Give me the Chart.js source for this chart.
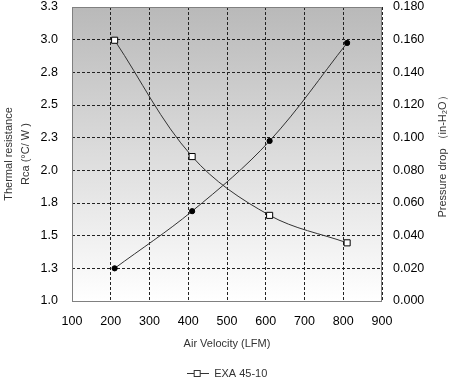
<!DOCTYPE html>
<html>
<head>
<meta charset="utf-8">
<script src="https://cdn.jsdelivr.net/npm/chart.js"></script>
<style>
  html, body { margin: 0; padding: 0; background: #fff; }
  #wrap { width: 454px; height: 379px; }
</style>
</head>
<body>
<div id="wrap"><canvas id="c" width="454" height="379"></canvas></div>
<script>
// Air velocity (LFM) for both series
const velocity = [210, 410, 610, 810];
// Thermal resistance Rca (°C/W), left axis
const resistance = [3.04, 2.13, 1.67, 1.455];
// Pressure drop (in-H2O), right axis
const pressure = [0.020, 0.055, 0.098, 0.158];

const xTicks = [100, 200, 300, 400, 500, 600, 700, 800, 900];
const leftTickLabels = ['1.0', '1.3', '1.5', '1.8', '2.0', '2.3', '2.5', '2.8', '3.0', '3.3'];
const rightTickLabels = ['0.000', '0.020', '0.040', '0.060', '0.080', '0.100', '0.120', '0.140', '0.160', '0.180'];

const seriesName = 'EXA 45-10';
const LEFT_MIN = 1.0, LEFT_MAX = 3.3;
const RIGHT_MIN = 0, RIGHT_MAX = 0.18;

const FONT = "'Liberation Sans', Arial, sans-serif";

// legend sample: line with hollow square
const legendIcon = document.createElement('canvas');
legendIcon.width = 22; legendIcon.height = 9;
(() => {
    const g = legendIcon.getContext('2d');
    g.strokeStyle = '#333'; g.lineWidth = 1;
    g.beginPath(); g.moveTo(0, 4.5); g.lineTo(22, 4.5); g.stroke();
    g.fillStyle = '#fff'; g.fillRect(7.5, 1.5, 6, 6);
    g.strokeRect(7.5, 1.5, 6, 6);
})();

const plotBackground = {
    id: 'plotBackground',
    beforeDraw(chart) {
        const { ctx, chartArea: a } = chart;
        const grad = ctx.createLinearGradient(0, a.top, 0, a.bottom);
        grad.addColorStop(0, '#b9b9b9');
        grad.addColorStop(1, '#ffffff');
        ctx.save();
        ctx.fillStyle = grad;
        ctx.fillRect(a.left, a.top, a.right - a.left, a.bottom - a.top);
        ctx.restore();
    },
    beforeDatasetsDraw(chart) {
        const { ctx, chartArea: a } = chart;
        ctx.save();
        ctx.strokeStyle = '#808080';
        ctx.lineWidth = 1;
        ctx.strokeRect(a.left + 0.5, a.top + 0.5, a.right - a.left - 1, a.bottom - a.top);
        ctx.restore();
    },
    afterDraw(chart) {
        // right axis title reads bottom-to-top like the left one
        const { ctx, chartArea: a } = chart;
        ctx.save();
        ctx.translate(443, (a.top + a.bottom) / 2);
        ctx.rotate(-Math.PI / 2);
        ctx.fillStyle = '#333';
        ctx.font = '11px ' + FONT;
        ctx.textAlign = 'center';
        ctx.textBaseline = 'middle';
        ctx.fillText('Pressure drop （in-H₂O）', 0, 0);
        ctx.restore();
    }
};

const lineStyle = {
    borderColor: '#333',
    borderWidth: 1,
    tension: 0.35,
    pointBorderColor: '#000',
    pointBorderWidth: 1
};

const gridDash = [3, 2];

// fixed side widths; keep the top edge close to the canvas like the original
const fitSide = (s) => { s.width = 72; s.paddingTop = 7; s.paddingBottom = 0; };

new Chart(document.getElementById('c'), {
    type: 'line',
    data: {
        datasets: [{
            ...lineStyle,
            label: seriesName,
            data: velocity.map((v, i) => ({ x: v, y: resistance[i] })),
            yAxisID: 'y',
            pointStyle: 'rect',
            pointRadius: 4.3,
            pointBackgroundColor: '#fff'
        }, {
            ...lineStyle,
            label: 'Pressure drop',
            data: velocity.map((v, i) => ({ x: v, y: pressure[i] })),
            yAxisID: 'y1',
            pointStyle: 'circle',
            pointRadius: 2.6,
            pointBackgroundColor: '#000'
        }]
    },
    options: {
        responsive: false,
        animation: false,
        layout: { padding: { top: 0, left: 0, right: 0, bottom: -10 } },
        plugins: {
            tooltip: { enabled: false },
            legend: {
                position: 'bottom',
                labels: {
                    usePointStyle: true,
                    pointStyleWidth: 22,
                    color: '#333',
                    font: { family: FONT, size: 11 },
                    padding: 2,
                    generateLabels: () => [{
                        text: seriesName,
                        pointStyle: legendIcon,
                        datasetIndex: 0,
                        fontColor: '#333',
                        lineWidth: 0
                    }]
                }
            }
        },
        scales: {
            x: {
                type: 'linear',
                min: xTicks[0],
                max: xTicks[xTicks.length - 1],
                afterBuildTicks: (s) => { s.ticks = xTicks.map(v => ({ value: v })); },
                afterFit: (s) => { s.height = 65; },
                border: { display: false, dash: gridDash },
                grid: { color: '#222', lineWidth: 1, drawTicks: false },
                ticks: { color: '#000', font: { family: FONT, size: 12.5 }, padding: 13, maxRotation: 0 },
                title: {
                    display: true,
                    text: 'Air Velocity (LFM)',
                    color: '#333',
                    font: { family: FONT, size: 11 },
                    padding: { top: 0, bottom: 15 }
                }
            },
            y: {
                position: 'left',
                min: LEFT_MIN,
                max: LEFT_MAX,
                afterBuildTicks: (s) => {
                    s.ticks = leftTickLabels.map((_, i) => ({
                        value: LEFT_MIN + i * (LEFT_MAX - LEFT_MIN) / (leftTickLabels.length - 1)
                    }));
                },
                afterFit: fitSide,
                border: { display: false, dash: gridDash },
                grid: { color: '#222', lineWidth: 1, drawTicks: false },
                ticks: {
                    color: '#000',
                    font: { family: FONT, size: 12.5 },
                    padding: 14,
                    callback: (v, i) => leftTickLabels[i]
                },
                title: {
                    display: true,
                    text: ['Thermal resistance', 'Rca (°C/ W )'],
                    color: '#333',
                    font: { family: FONT, size: 11, lineHeight: 1.55 },
                    padding: { top: 0, bottom: 0 }
                }
            },
            y1: {
                position: 'right',
                min: RIGHT_MIN,
                max: RIGHT_MAX,
                afterBuildTicks: (s) => {
                    s.ticks = rightTickLabels.map((_, i) => ({
                        value: RIGHT_MIN + i * (RIGHT_MAX - RIGHT_MIN) / (rightTickLabels.length - 1)
                    }));
                },
                afterFit: fitSide,
                border: { display: false },
                grid: { display: false, drawTicks: false },
                ticks: {
                    color: '#000',
                    font: { family: FONT, size: 12.5 },
                    padding: 11,
                    callback: (v, i) => rightTickLabels[i]
                }
            }
        }
    },
    plugins: [plotBackground]
});
</script>
</body>
</html>
